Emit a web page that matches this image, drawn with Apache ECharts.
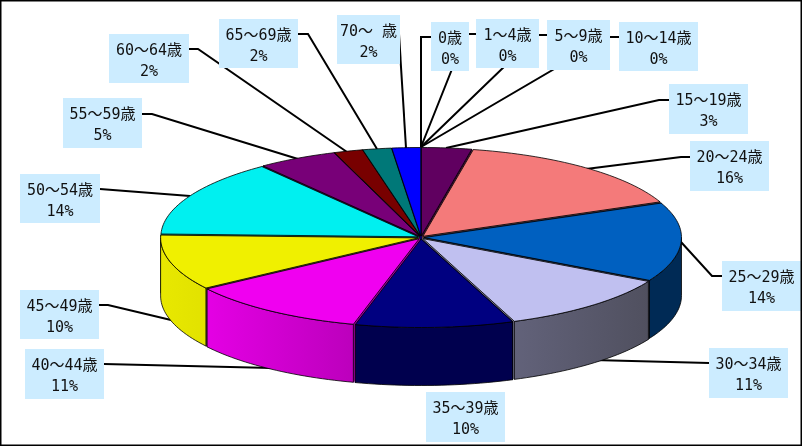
<!DOCTYPE html>
<html><head><meta charset="utf-8">
<style>html,body{margin:0;padding:0;background:#fff}#c{width:802px;height:446px}</style>
<script src="https://cdn.jsdelivr.net/npm/echarts@6/dist/echarts.min.js"></script>
</head><body><div id="c"></div>
<script>
// data
const categories = ['0歳','1～4歳','5～9歳','10～14歳','15～19歳','20～24歳','25～29歳','30～34歳','35～39歳','40～44歳','45～49歳','50～54歳','55～59歳','60～64歳','65～69歳','70～\u2009歳'];
const shares = [0,0,0,0,3.14,15.5,14.4,11.2,9.9,11.3,10.1,14.1,5.0,1.8,1.8,1.8];
const percentLabels = ['0%','0%','0%','0%','3%','16%','14%','11%','10%','11%','10%','14%','5%','2%','2%','2%'];

// styles
const topColors = ['#000','#000','#000','#000','#600060','#F47A7A','#0060C0','#C0C0F0','#000080','#F000F0','#F0F000','#00F0F0','#780078','#780000','#007878','#0000FF'];
const wallLeft  = ['#000','#000','#000','#000','#400040','#A05050','#002A55','#62627A','#00004E','#E400E4','#E8E800','#00C8C8','#500050','#500000','#005050','#0000A0'];
const wallRight = ['#000','#000','#000','#000','#400040','#A05050','#002A55','#50505F','#00004E','#BC00BC','#E2E200','#00C8C8','#500050','#500000','#005050','#0000A0'];
const cutColors = ['#000','#000','#000','#000','#300030','#704040','#001C38','#777788','#000030','#A000A0','#55551A','#008080','#300030','#300000','#003030','#000070'];

// layout (x0, y0, x1, y1 of each label box, and its leader line)
const boxes = [[431,22,469,71],[476,19,539,68],[547,20,610,70],[619,22,698,71],[669,84,748,134],[690,141,769,191],[722,261,801,311],[709,348,788,398],[426,392,505,442],[25,349,104,399],[20,290,99,339],[20,174,100,223],[63,98,142,148],[109,34,189,83],[219,19,298,68],[337,15,400,64]];
const leaders = [
 [[431,37],[421,37],[421,147]],
 [[476,34],[466,34],[421,147]],
 [[547,35],[537,35],[421,147]],
 [[619,37],[609,37],[421,147]],
 [[669,100],[659,100],[446,148]],
 [[690,157],[681,157],[586,169]],
 [[722,276],[712,276],[681,242]],
 [[709,363],[593,360]],
 [],
 [[104,364],[272,368]],
 [[99,305],[108,305],[171,320]],
 [[100,189],[190,196]],
 [[142,114],[152,114],[298,159]],
 [[189,49],[198,49],[347,152]],
 [[298,34],[308,34],[377,149]],
 [[399,34],[406,148]]
];
const CX = 421, CY = 237.5, RX = 257.5, RY = 88.5, DEPTH = 58, GAP = 3;

const deg = Math.PI / 180;
const total = shares.reduce((a, b) => a + b, 0);
let acc = 0;
const spans = shares.map(v => { const s = acc; acc += v; return [s / total * 360, acc / total * 360]; });
const pt = (t, ox, oy, d) => [CX + ox + RX * Math.sin(t * deg), CY + oy - RY * Math.cos(t * deg) + (d || 0)];

function arc(a, b, ox, oy, d) {
  const out = [], n = Math.max(2, Math.ceil((b - a) / 1.5));
  for (let i = 0; i <= n; i++) out.push(pt(a + (b - a) * i / n, ox, oy, d));
  return out;
}

function renderItem(params) {
  const i = params.dataIndex;
  if (!shares[i]) return { type: 'group', children: [] };
  const [a, b] = spans[i];
  const m = (a + b) / 2;
  const ox = GAP * Math.sin(m * deg), oy = -GAP * Math.cos(m * deg) * 0.5;
  const c = [CX + ox, CY + oy], cd = [c[0], c[1] + DEPTH];
  const line = { stroke: '#000', lineWidth: 0.8 };
  const kids = [];
  // radial cut faces
  [a, b].forEach(t => {
    const e = pt(t, ox, oy), ed = pt(t, ox, oy, DEPTH);
    kids.push({ type: 'polygon', z2: 1 + Math.round(e[1] / 10) / 100,
      shape: { points: [c, e, ed, cd] }, style: { fill: cutColors[i], stroke: cutColors[i], lineWidth: 1 } });
  });
  // outer wall
  const wa = Math.max(a, 90), wb = Math.min(b, 270);
  if (wb > wa) {
    const up = arc(wa, wb, ox, oy), dn = arc(wa, wb, ox, oy, DEPTH).reverse();
    const xs = up.map(p => p[0]);
    const x0 = Math.min(...xs), x1 = Math.max(...xs);
    kids.push({ type: 'polygon', z2: 3, shape: { points: up.concat(dn) },
      style: Object.assign({ fill: new echarts.graphic.LinearGradient(x0, 0, x1, 0,
        [{ offset: 0, color: wallLeft[i] }, { offset: 1, color: wallRight[i] }], true) }, line) });
  }
  // top face
  kids.push({ type: 'polygon', z2: 4, shape: { points: [c].concat(arc(a, b, ox, oy)) },
    style: Object.assign({ fill: topColors[i] }, line) });
  return { type: 'group', children: kids };
}

const graphics = [{ type: 'rect', z: 20, silent: true, shape: { x: 0.75, y: 0.75, width: 800.5, height: 444.5 },
  style: { fill: 'none', stroke: '#000', lineWidth: 1.5 } }];
leaders.forEach(p => { if (p.length) graphics.push({ type: 'polyline', z: 1, shape: { points: p }, style: { fill: 'none', stroke: '#000', lineWidth: 2 } }); });
boxes.forEach((b, i) => {
  graphics.push({ type: 'rect', z: 5, shape: { x: b[0], y: b[1], width: b[2] - b[0], height: b[3] - b[1] }, style: { fill: '#CCECFF' } });
  graphics.push({ type: 'text', z: 6, x: (b[0] + b[2]) / 2, y: b[1] + 6.5,
    style: { text: categories[i] + '\n' + percentLabels[i], fill: '#111', align: 'center', verticalAlign: 'top', lineHeight: 21,
      font: '15px "DejaVu Sans Mono", "Noto Sans CJK JP"' } });
});

const chart = echarts.init(document.getElementById('c'), null, { renderer: 'canvas' });
chart.setOption({
  animation: false,
  backgroundColor: '#fff',
  graphic: { elements: graphics },
  series: [{ type: 'custom', coordinateSystem: 'none', z: 2, silent: true, renderItem, data: shares.map((v, i) => ({ name: categories[i], value: v })) }]
});
</script></body></html>
